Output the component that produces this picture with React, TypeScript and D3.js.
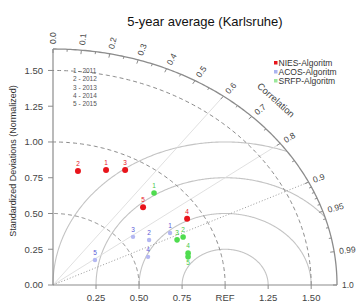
import React from 'react'
import * as d3 from 'd3'

// 5 years, one number per point
const yearLabels = ['1 - 2011', '2 - 2012', '3 - 2013', '4 - 2014', '5 - 2015']
const pointIds = ['1', '2', '3', '4', '5']

// normalized standard deviation and correlation per year
const niesSd = [0.861, 0.81, 0.907, 0.906, 0.755]
const niesCor = [0.358, 0.179, 0.462, 0.86, 0.693]
const acosSd = [0.771, 0.641, 0.574, 0.586, 0.3]
const acosCor = [0.882, 0.871, 0.81, 0.942, 0.813]
const srfpSd = [0.871, 0.827, 0.787, 0.816, 0.809]
const srfpCor = [0.674, 0.914, 0.916, 0.962, 0.97]

const legendNames = ['NIES-Algoritm', 'ACOS-Algoritm', 'SRFP-Algoritm']

const sdTicks = [0, 0.25, 0.5, 0.75, 1, 1.25, 1.5]
const sdTickLabels = ['0.00', '0.25', '0.50', '0.75', 'REF', '1.25', '1.50']
const sdArcs = [0.5, 1, 1.5]
const rmsArcs = [0.25, 0.5, 0.75, 1]
const corLabelTicks = [0, 0.1, 0.2, 0.3, 0.4, 0.5, 0.6, 0.7, 0.8, 0.9, 0.95, 0.99, 1]
const corLabelText = ['0.0', '0.1', '0.2', '0.3', '0.4', '0.5', '0.6', '0.7', '0.8', '0.9', '0.95', '0.99', '1.0']
const corMinorTicks = [0.05, 0.15, 0.25, 0.35, 0.45, 0.55, 0.65, 0.75, 0.85, 0.91, 0.92, 0.93, 0.94, 0.96, 0.97, 0.98]
const corLines = [0.6, 0.8]
const corDotted = [0.9]
const maxSd = 1.65

const font = '"Liberation Sans", Arial, sans-serif'

const App = () => {
  const x = d3.scaleLinear().domain([0, maxSd]).range([53, 337])
  const y = d3.scaleLinear().domain([0, maxSd]).range([285, 49])

  const polar = (sd: number, cor: number): [number, number] => {
    const th = Math.acos(cor)
    return [x(sd * Math.cos(th)), y(sd * Math.sin(th))]
  }

  const line = d3.line<[number, number]>()
  const angles = d3.range(0, 181).map(d => (d * Math.PI) / 360)

  // quarter arcs around the origin
  const sdArcPath = (r: number) =>
    line(angles.map(a => [x(r * Math.cos(a)), y(r * Math.sin(a))] as [number, number]))

  // arcs around REF, clipped to the outer sd
  const rmsPath = (r: number) => {
    const pts: [number, number][] = []
    d3.range(0, 361).forEach(i => {
      const a = (i * Math.PI) / 360
      const px = 1 + r * Math.cos(a)
      const py = r * Math.sin(a)
      if (Math.hypot(px, py) <= maxSd + 1e-6) pts.push([x(px), y(py)])
    })
    return line(pts)
  }

  const radialDir = (cor: number) => {
    const th = Math.acos(cor)
    const dx = x(Math.cos(th)) - x(0)
    const dy = y(Math.sin(th)) - y(0)
    const len = Math.hypot(dx, dy)
    return [dx / len, dy / len]
  }

  const series = [
    { sd: niesSd, cor: niesCor, fill: '#e8141b', text: '#e8141b', r: 3 },
    { sd: acosSd, cor: acosCor, fill: '#b4b8f2', text: '#5a5ad8', r: 2.2 },
    { sd: srfpSd, cor: srfpCor, fill: '#4fdc4f', text: '#46c846', r: 2.8 },
  ]
  const legendColors = ['#e8141b', '#aab4f0', '#9be89b']

  return (
    <svg width={360} height={305} style={{ position: 'absolute', left: 0, top: 0, background: '#fff' }} fontFamily={font}>
      <text x={205} y={26} textAnchor="middle" fontSize={13} fill="#111">5-year average (Karlsruhe)</text>

      {/* rms arcs */}
      {rmsArcs.map(r => (
        <path key={'rms' + r} d={rmsPath(r) || ''} fill="none" stroke="#c4c4c4" strokeWidth={1.1} />
      ))}

      {/* correlation lines */}
      {corLines.map(c => {
        const [ex, ey] = polar(maxSd, c)
        return <line key={'cl' + c} x1={x(0)} y1={y(0)} x2={ex} y2={ey} stroke="#dcdcdc" strokeWidth={0.9} />
      })}
      {corDotted.map(c => {
        const [ex, ey] = polar(maxSd, c)
        return <line key={'cd' + c} x1={x(0)} y1={y(0)} x2={ex} y2={ey} stroke="#9a9a9a" strokeWidth={1} strokeDasharray="1,2" />
      })}

      {/* sd arcs */}
      {sdArcs.map(r => (
        <path key={'sd' + r} d={sdArcPath(r) || ''} fill="none" stroke="#8a8a8a" strokeWidth={1} strokeDasharray="4,3" />
      ))}

      {/* outer arc */}
      <path d={sdArcPath(maxSd) || ''} fill="none" stroke="#8c8c8c" strokeWidth={1.3} />

      {/* axes */}
      <line x1={x(0)} y1={y(0)} x2={x(0)} y2={y(maxSd)} stroke="#8c8c8c" strokeWidth={1.2} />
      <line x1={x(0)} y1={y(0)} x2={x(maxSd)} y2={y(0)} stroke="#8c8c8c" strokeWidth={1.2} />

      {sdTicks.map((t, i) => (
        <g key={'yt' + t}>
          <line x1={x(0) - 5} x2={x(0)} y1={y(t)} y2={y(t)} stroke="#8c8c8c" />
          <text x={x(0) - 10} y={y(t)} dy="0.35em" textAnchor="end" fontSize={9.5} fill="#444">
            {t.toFixed(2)}
          </text>
          {i > 0 && (
            <>
              <line x1={x(t)} x2={x(t)} y1={y(0)} y2={y(0) + 4} stroke="#8c8c8c" />
              <text x={x(t)} y={y(0) + 16} textAnchor="middle" fontSize={9.5} fill="#444">
                {sdTickLabels[i]}
              </text>
            </>
          )}
        </g>
      ))}

      <text transform={`translate(13,${161}) rotate(-90)`} textAnchor="middle" dy="0.35em" fontSize={9} fill="#333">
        Standardized Deviations (Normalized)
      </text>

      {/* correlation ticks */}
      {corLabelTicks.concat(corMinorTicks).map((c, i) => {
        const [ex, ey] = polar(maxSd, c)
        const [ux, uy] = radialDir(c)
        const len = i < corLabelTicks.length ? 4 : 2.5
        return <line key={'ct' + i} x1={ex} y1={ey} x2={ex - ux * len} y2={ey - uy * len} stroke="#8c8c8c" strokeWidth={1} />
      })}
      {corLabelTicks.map((c, i) => {
        const [ex, ey] = polar(maxSd, c)
        const [ux, uy] = radialDir(c)
        const ang = (Math.atan2(uy, ux) * 180) / Math.PI
        return (
          <text
            key={'clab' + c}
            transform={`translate(${ex + ux * 5},${ey + uy * 5}) rotate(${ang})`}
            dy="0.35em"
            fontSize={8.5}
            fill="#444"
          >
            {corLabelText[i]}
          </text>
        )
      })}
      <text transform="translate(276,100) rotate(42)" textAnchor="middle" dy="0.35em" fontSize={9.5} fill="#444">
        Correlation
      </text>

      {/* year legend */}
      {yearLabels.map((t, i) => (
        <text key={t} x={73} y={71 + i * 8.2} dy="0.35em" fontSize={6.5} fill="#555">
          {t}
        </text>
      ))}

      {/* algorithm legend */}
      {legendNames.map((n, i) => (
        <g key={n}>
          <rect x={274} y={61 + i * 9} width={3.5} height={3.5} fill={legendColors[i]} />
          <text x={278.5} y={63 + i * 9} dy="0.35em" fontSize={8.5} fill="#333">
            {n}
          </text>
        </g>
      ))}

      {/* points */}
      {series.map((s, si) =>
        s.sd.map((sd, i) => {
          const [px, py] = polar(sd, s.cor[i])
          // the two green points that sit on top of each other: second label goes underneath
          const below = si === 2 && i === 4
          return (
            <g key={`p${si}-${i}`}>
              <circle cx={px} cy={py} r={s.r} fill={s.fill} />
              <text x={px} y={below ? py + 8.5 : py - 5} textAnchor="middle" fontSize={6.5} fill={s.text}>
                {pointIds[i]}
              </text>
            </g>
          )
        })
      )}
    </svg>
  )
}

export default App
